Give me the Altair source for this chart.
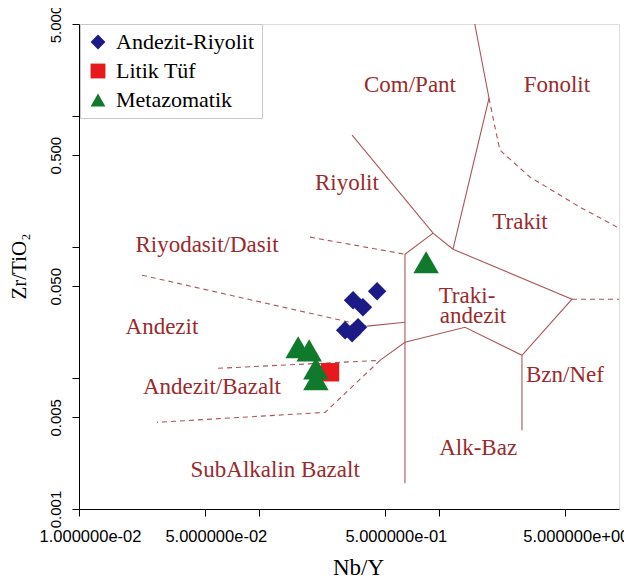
import altair as alt
import pandas as pd

# ---------------- sample data (Nb/Y, Zr/TiO2) ----------------
andezit_riyolit_nby = [0.453, 0.333, 0.378, 0.301, 0.355, 0.329]
andezit_riyolit_zr = [0.0458, 0.0391, 0.0346, 0.0231, 0.0243, 0.0219]
litik_tuf_nby = [0.248]
litik_tuf_zr = [0.01104]
metazomatik_nby = [0.165, 0.190, 0.207, 0.207, 0.848]
metazomatik_zr = [0.0171, 0.0162, 0.0118, 0.00975, 0.0762]

groups = ["Andezit-Riyolit", "Litik Tüf", "Metazomatik"]
group_colors = ["#1c1a86", "#e8191c", "#0f7a2c"]
group_shapes = ["diamond", "square", "triangle-up"]

# ---------------- field boundaries (Nb/Y, Zr/TiO2) ----------------
solid_lines = {
    "s1": ([0.329, 0.927, 1.196], [0.711, 0.127, 0.0958]),
    "s2": ([1.58, 1.896, 1.196], [5.0, 1.36, 0.0958]),
    "s3": ([1.196, 5.48, 2.89, 1.394, 0.647, 0.470],
           [0.0958, 0.0398, 0.01487, 0.0243, 0.0187, 0.0136]),
    "s4": ([0.927, 0.647, 0.647], [0.127, 0.0877, 0.00157]),
    "s5": ([2.89, 2.89], [0.01487, 0.00398]),
    "s6": ([0.398, 0.647], [0.0248, 0.0266]),
}
dashed_lines = {
    "d1": ([1.896, 2.046, 2.18, 3.20, 6.07, 10.0],
           [1.36, 0.818, 0.546, 0.340, 0.2005, 0.1387]),
    "d2": ([5.48, 10.0], [0.0398, 0.0398]),
    "d3": ([0.192, 0.647], [0.1184, 0.0877]),
    "d4": ([0.0224, 0.398], [0.0607, 0.0248]),
    "d5": ([0.0592, 0.470], [0.01183, 0.0136]),
    "d6": ([0.470, 0.233, 0.0271], [0.0136, 0.00546, 0.00458]),
}

# ---------------- field names ----------------
region_names = ["Com/Pant", "Fonolit", "Riyolit", "Trakit", "Riyodasit/Dasit",
                "Traki-", "andezit", "Andezit", "Andezit/Bazalt", "Bzn/Nef",
                "Alk-Baz", "SubAlkalin Bazalt"]
region_nby = [0.690, 4.52, 0.308, 2.82, 0.0514, 1.43, 1.545, 0.0289, 0.0548,
              5.01, 1.65, 0.123]
region_zr = [1.71, 1.71, 0.306, 0.154, 0.1028, 0.0420, 0.0295, 0.0243,
             0.00848, 0.01047, 0.0029, 0.00197]

# ---------------- axis ticks ----------------
x_tick_values = [0.01, 0.05, 0.1, 0.5, 1, 5]
x_tick_labels = ["1.000000e-02", "5.000000e-02", "", "5.000000e-01", "", "5.000000e+00"]
y_tick_values = [0.001, 0.005, 0.01, 0.05, 0.1, 0.5, 1, 5]
y_tick_labels = ["0.001", "0.005", "", "0.050", "", "0.500", "", "5.000"]


def label_expr(values, labels):
    expr = "''"
    for v, lab in reversed(list(zip(values, labels))):
        expr = f"abs(datum.value - {v}) < {v * 1e-3} ? '{lab}' : {expr}"
    return expr


# ---------------- tables ----------------
rows = []
for g, xs, ys in [(groups[0], andezit_riyolit_nby, andezit_riyolit_zr),
                  (groups[1], litik_tuf_nby, litik_tuf_zr),
                  (groups[2], metazomatik_nby, metazomatik_zr)]:
    for a, b in zip(xs, ys):
        rows.append({"grp": g, "nby": a, "zr": b})
pts = pd.DataFrame(rows)


def lines_df(d):
    r = []
    for name, (xs, ys) in d.items():
        for i, (a, b) in enumerate(zip(xs, ys)):
            r.append({"line": name, "i": i, "nby": a, "zr": b})
    return pd.DataFrame(r)


solid_df = lines_df(solid_lines)
dashed_df = lines_df(dashed_lines)
labels_df = pd.DataFrame({"name": region_names, "nby": region_nby, "zr": region_zr})

SERIF = "Liberation Serif"
SANS = "Liberation Sans"
LINE_COLOR = "#a9565a"
TEXT_COLOR = "#9a2a2c"

xscale = alt.Scale(type="log", domain=[0.01, 10], nice=False)
yscale = alt.Scale(type="log", domain=[0.001, 5], nice=False)

xaxis = alt.Axis(
    values=x_tick_values, labelExpr=label_expr(x_tick_values, x_tick_labels),
    title="Nb/Y", titleFont=SERIF, titleFontSize=23, titleFontWeight="normal",
    titleColor="black", titleX=279, titleY=65, titleBaseline="alphabetic",
    titleAlign="center", labelFont=SANS, labelFontSize=16.5, labelColor="black",
    labelPadding=12, labelOffset=11, labelFlush=False, labelOverlap=False,
    labelBound=False, tickSize=7, tickColor="black", domainColor="black",
    grid=False,
)
yaxis = alt.Axis(
    values=y_tick_values, labelExpr=label_expr(y_tick_values, y_tick_labels),
    title="Zr/TiO₂", titleFont=SERIF, titleFontSize=21, titleFontWeight="normal",
    titleColor="black", titleAngle=270, titleX=-60, titleY=242,
    titleAlign="center", titleBaseline="middle",
    labelFont=SANS, labelFontSize=15, labelColor="black", labelAngle=270,
    labelAlign="center", labelBaseline="middle", labelPadding=17,
    labelFlush=False, labelOverlap=False, labelBound=False,
    tickSize=7, tickColor="black", domainColor="black", grid=False,
)

x_enc = alt.X("nby:Q", scale=xscale, axis=xaxis)
y_enc = alt.Y("zr:Q", scale=yscale, axis=yaxis)

solid = alt.Chart(solid_df).mark_line(color=LINE_COLOR, strokeWidth=1.1, clip=True).encode(
    x=x_enc, y=y_enc, detail="line:N", order="i:Q")
dashed = alt.Chart(dashed_df).mark_line(color=LINE_COLOR, strokeWidth=1.1,
                                        strokeDash=[5, 4], clip=True).encode(
    x=x_enc, y=y_enc, detail="line:N", order="i:Q")

texts = alt.Chart(labels_df).mark_text(font=SERIF, fontSize=23, color=TEXT_COLOR,
                                       align="center", baseline="middle").encode(
    x=x_enc, y=y_enc, text="name:N")

legend = alt.Legend(
    title=None, orient="none", legendX=1, legendY=0, padding=7,
    strokeColor="#c8c8c8", fillColor="white", labelFont=SERIF, labelFontSize=22,
    labelColor="black", labelLimit=400, rowPadding=7, labelOffset=7, symbolSize=220,
    symbolStrokeWidth=0, symbolOpacity=1,
)

points = alt.Chart(pts).mark_point(filled=True, opacity=1, strokeWidth=0).encode(
    x=x_enc, y=y_enc,
    color=alt.Color("grp:N", scale=alt.Scale(domain=groups, range=group_colors), legend=legend),
    shape=alt.Shape("grp:N", scale=alt.Scale(domain=groups, range=group_shapes), legend=legend),
    size=alt.condition(alt.datum.grp == "Metazomatik", alt.value(650), alt.value(340)),
)

chart = alt.layer(solid, dashed, texts, points).properties(
    width=540, height=485,
    autosize=alt.AutoSizeParams(type="none"),
    padding={"left": 71, "top": 16, "right": 5, "bottom": 69},
).configure_view(stroke="#333333", strokeWidth=1).configure_legend(
    labelFont=SERIF, labelFontSize=22, labelColor="black", labelLimit=400
).configure(background="white", font=SERIF)

chart.save("out.html", embed_options={"renderer": "svg", "actions": False})
